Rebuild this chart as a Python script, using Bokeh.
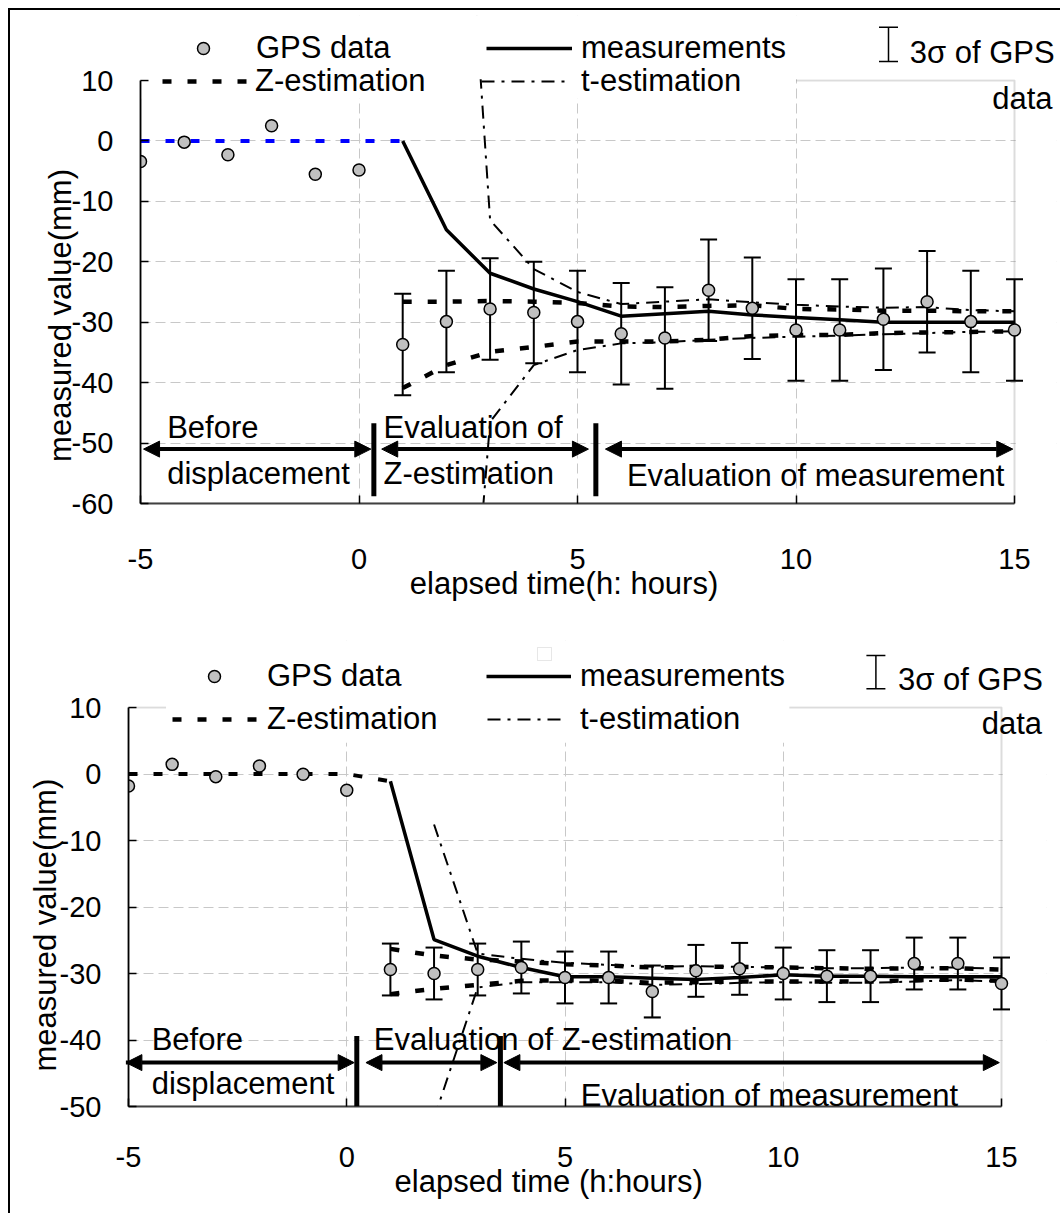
from bokeh.plotting import figure
from bokeh.models import (ColumnDataSource, FixedTicker, BoxAnnotation, Label,
                          Legend, LegendItem, Whisker, TeeHead, Arrow, NormalHead)
from bokeh.layouts import column
from bokeh.embed import file_html
from bokeh.resources import INLINE

# ---------------- data ----------------
hours_pre = [-5, -4, -3, -2, -1, 0]
hours_post = [1, 2, 3, 4, 5, 6, 7, 8, 9, 10, 11, 12, 13, 14, 15]
hours_zpre = [-5, -4, -3, -2, -1, 0, 1]
hours_t = [2, 3, 4, 5, 6, 7, 8, 9, 10, 11, 12, 13, 14, 15]
x_ticks = [-5, 0, 5, 10, 15]
y_ticks_top = [10, 0, -10, -20, -30, -40, -50, -60]
y_ticks_bottom = [10, 0, -10, -20, -30, -40, -50]

# upper chart
gps_pre_top = [-3.4, -0.2, -2.3, 2.5, -5.5, -4.8]
gps_post_top = [-33.7, -29.9, -27.8, -28.4, -29.9, -31.9, -32.6, -24.7, -27.7, -31.3,
                -31.3, -29.5, -26.6, -29.9, -31.3]
gps_3sigma_top = 8.4
meas_top = [0.0, -14.7, -21.9, -24.5, -26.6, -29.0, -28.6, -28.2, -28.8, -29.2,
            -29.6, -30.0, -30.0, -30.0, -30.0]
zpre_top = [0.0, 0.0, 0.0, 0.0, 0.0, 0.0, 0.0]
z_upper_top = [-26.6, -26.6, -26.5, -26.6, -26.8, -27.4, -27.5, -27.3, -27.2, -27.8,
               -27.9, -28.1, -28.1, -28.2, -28.2]
z_lower_top = [-40.9, -37.1, -34.9, -34.1, -33.2, -33.2, -33.2, -32.9, -32.3, -32.1,
               -32.1, -31.8, -31.7, -31.6, -31.5]
t_upper_top = [95.0, -13.1, -21.2, -25.0, -27.0, -26.6, -26.2, -26.7, -27.1, -27.4,
               -27.6, -27.5, -28.0, -28.2]
t_lower_top = [-135.0, -46.5, -37.1, -34.6, -33.5, -33.3, -32.9, -32.6, -32.4, -32.2,
               -32.0, -31.8, -31.6, -31.5]

# lower chart
gps_pre_bottom = [-1.8, 1.45, -0.4, 1.2, -0.05, -2.45]
gps_post_bottom = [-29.4, -30.0, -29.4, -29.1, -30.6, -30.6, -32.7, -29.6, -29.3, -30.0,
                   -30.4, -30.4, -28.5, -28.5, -31.5]
gps_3sigma_bottom = 3.9
meas_bottom = [-1.1, -24.9, -27.4, -29.1, -30.5, -30.5, -30.7, -30.9, -30.6, -30.2,
               -30.4, -30.4, -30.5, -30.5, -30.5]
zpre_bottom = [0.0, 0.0, 0.0, 0.0, 0.0, 0.0, -1.1]
z_upper_bottom = [-26.3, -27.3, -27.9, -28.2, -28.6, -28.8, -29.1, -29.0, -29.0, -29.1,
                  -29.2, -29.3, -29.2, -29.2, -29.4]
z_lower_bottom = [-33.1, -32.3, -31.7, -31.1, -31.0, -31.1, -31.4, -31.3, -31.2, -31.2,
                  -31.2, -31.2, -31.0, -30.9, -31.1]
t_upper_bottom = [-7.6, -27.0, -27.8, -28.4, -28.7, -29.0, -28.9, -29.0, -29.1, -29.2,
                  -29.2, -29.1, -29.1, -29.3]
t_lower_bottom = [-51.8, -32.1, -31.3, -31.3, -31.3, -31.7, -31.6, -31.4, -31.3, -31.4,
                  -31.4, -31.2, -31.0, -31.2]

FONT = "Liberation Sans"
TXT = "31px"
Z_DASH = "9 16"
T_DASH = "13 7 3 7"
GRID = "#c8c8c8"
BORDER = "#8c8c8c"
NB = "\u00a0"


def build(d, lay):
    fl, fr, ft, fb = lay["frame"]          # frame edges on the page (px)
    sx, sy = lay["scale"]                  # px per hour, px per mm
    x0, x1 = x_ticks[0], x_ticks[-1]
    ylo, yhi = d["yt"][-1], d["yt"][0]
    xmax = x0 + (fr - fl) / sx
    ymax = ylo + (fb - ft) / sy
    mbl, mbr = 118, 4
    p = figure(width=mbl + (fr - fl) + mbr, height=lay["mbt"] + (fb - ft) + lay["mbb"],
               x_range=(x0, xmax), y_range=(ylo, ymax), output_backend="svg",
               toolbar_location=None, title=None, min_border_left=mbl, min_border_right=mbr,
               min_border_top=lay["mbt"], min_border_bottom=lay["mbb"])
    p.margin = (0, 0, 0, lay["shift"])
    p.outline_line_color = None
    p.background_fill_color = "white"
    p.border_fill_color = "white"

    # axes
    p.xaxis.ticker = FixedTicker(ticks=x_ticks)
    p.yaxis.ticker = FixedTicker(ticks=d["yt"])
    p.xaxis.major_label_overrides = {t: str(t) for t in x_ticks}
    p.yaxis.major_label_overrides = {t: str(t) for t in d["yt"]}
    p.xaxis.bounds = (x0, x1)
    p.yaxis.bounds = (ylo, yhi)
    p.xaxis.axis_label = d["xlabel"] + NB * lay["xpad"]
    p.yaxis.axis_label = "measured value(mm)" + NB * lay["ypad"]
    for ax in (p.xaxis[0], p.yaxis[0]):
        ax.major_tick_in = 8
        ax.major_tick_out = 0
        ax.minor_tick_line_color = None
        ax.major_tick_line_color = "black"
        ax.major_tick_line_width = 1.5
        ax.major_label_text_font = FONT
        ax.major_label_text_font_size = "29px"
        ax.major_label_text_color = "black"
        ax.axis_label_text_font = FONT
        ax.axis_label_text_font_size = TXT
        ax.axis_label_text_font_style = "normal"
        ax.axis_label_text_color = "black"
    p.yaxis.axis_line_color = "black"
    p.yaxis.axis_line_width = 1.8
    p.xaxis.axis_line_color = "#404040"
    p.xaxis.axis_line_width = 1.8
    p.xaxis.major_label_standoff = lay["xls"]
    p.xaxis.axis_label_standoff = lay["xas"]
    p.yaxis.major_label_standoff = 27
    p.yaxis.axis_label_standoff = lay["yas"]

    # grid
    p.xgrid.ticker = FixedTicker(ticks=x_ticks[1:-1])
    p.ygrid.ticker = FixedTicker(ticks=d["yt"][1:-1])
    for g in (p.xgrid[0], p.ygrid[0]):
        g.grid_line_color = GRID
        g.grid_line_dash = "10 5"
        g.grid_line_width = 1

    # underlay: hide grid right of the plot area, plot-area border, legend background
    p.add_layout(BoxAnnotation(left=x1 + 1.2 / sx, right=xmax + 1, bottom=ylo - 1, top=ymax + 1,
                               fill_color="white", fill_alpha=1, line_color=None,
                               level="underlay"))
    p.add_layout(BoxAnnotation(left=x0, right=x1, bottom=ylo, top=yhi, fill_alpha=0,
                               line_color=BORDER, line_width=2, level="underlay"))
    p.add_layout(BoxAnnotation(left=lay["box_l"], right=lay["box_r"], bottom=lay["box_b"],
                               top=yhi + 1.5 / sy, fill_color="white", fill_alpha=1,
                               line_color=None, level="underlay"))

    # error bars (3 sigma)
    s = d["sig"]
    err_src = ColumnDataSource(dict(x=hours_post,
                                    upper=[v + s for v in d["gps_post"]],
                                    lower=[v - s for v in d["gps_post"]]))
    p.add_layout(Whisker(source=err_src, base="x", upper="upper", lower="lower",
                         dimension="height", line_color="black", line_width=2, level="underlay",
                         upper_head=TeeHead(size=17, line_color="black", line_width=2),
                         lower_head=TeeHead(size=17, line_color="black", line_width=2)))

    # lines and points
    p.line(hours_zpre, d["zpre"], line_color=d["zpre_color"], line_width=4, line_dash=Z_DASH)
    rz = p.line(hours_post, d["z_up"], line_color="black", line_width=4.5, line_dash=Z_DASH)
    p.line(hours_post, d["z_lo"], line_color="black", line_width=4.5, line_dash=Z_DASH)
    rt = p.line(hours_t, d["t_up"], line_color="black", line_width=2, line_dash=T_DASH)
    p.line(hours_t, d["t_lo"], line_color="black", line_width=2, line_dash=T_DASH)
    rm = p.line(hours_post, d["meas"], line_color="black", line_width=3.5)
    rg = p.scatter(hours_pre + hours_post, d["gps_pre"] + d["gps_post"], size=12,
                   fill_color="#c0c0c0", line_color="black", line_width=1.5)

    # hide anything drawn above the plot area (legend zone)
    p.add_layout(BoxAnnotation(left=x0 - 1, right=xmax + 1, bottom=yhi + 1.2 / sy, top=ymax + 1,
                               fill_color="white", fill_alpha=1, line_color=None))

    # region arrows and dividers
    ay = lay["arrow_y"]
    for a, b in lay["arrows"]:
        p.add_layout(Arrow(x_start=a, y_start=ay, x_end=b, y_end=ay, line_width=4,
                           line_color="black",
                           start=NormalHead(size=16, fill_color="black", line_color="black"),
                           end=NormalHead(size=16, fill_color="black", line_color="black")))
    by0, by1 = lay["bar_y"]
    for bx in lay["bars"]:
        p.add_layout(Arrow(x_start=bx, y_start=by0, x_end=bx, y_end=by1, line_width=5,
                           line_color="black", end=None))
    for txt, tx, ty in lay["texts"]:
        p.add_layout(Label(x=tx, y=ty, text=txt, text_font=FONT, text_font_size=TXT,
                           text_baseline="middle", text_align="left", text_color="black"))

    # legend (page-coordinate layout converted to frame-relative screen units)
    def leg(r, label, lx, yc, gw, so):
        gh = 30
        p.add_layout(Legend(items=[LegendItem(label=label, renderers=[r])],
                            location=(int(round(lx - fl)), int(round(fb - (yc + gh / 2)))),
                            orientation="vertical", padding=0, margin=0, spacing=0,
                            glyph_width=int(gw), glyph_height=gh, label_height=gh,
                            label_standoff=int(so), label_text_font=FONT,
                            label_text_font_size=TXT, label_text_color="black",
                            border_line_color=None, background_fill_alpha=0), "center")

    for key, r in (("gps", rg), ("meas", rm), ("z", rz), ("t", rt)):
        label, lx, yc, gw, so = lay["legend"][key]
        leg(r, label, lx, yc, gw, so)

    ibx, iby0, iby1 = lay["ibeam"]
    ib_src = ColumnDataSource(dict(b=[ibx - fl], lo=[fb - iby1], hi=[fb - iby0]))
    p.add_layout(Whisker(source=ib_src, base="b", lower="lo", upper="hi",
                         base_units="screen", lower_units="screen", upper_units="screen",
                         dimension="height", line_color="black", line_width=1.5,
                         level="annotation",
                         upper_head=TeeHead(size=19, line_color="black", line_width=1.5),
                         lower_head=TeeHead(size=19, line_color="black", line_width=1.5)))
    tx, ty = lay["sigma_txt"]
    p.add_layout(Label(x=tx - fl, y=fb - ty, x_units="screen", y_units="screen",
                       text="3σ of GPS", text_font=FONT, text_font_size=TXT,
                       text_baseline="middle", text_align="left", text_color="black"))
    tx, ty = lay["data_txt"]
    p.add_layout(Label(x=tx - fl, y=fb - ty, x_units="screen", y_units="screen",
                       text="data", text_font=FONT, text_font_size=TXT,
                       text_baseline="middle", text_align="right", text_color="black"))
    if "mark" in lay:
        l, r, t, b = lay["mark"]
        p.add_layout(BoxAnnotation(left=l - fl, right=r - fl, top=fb - t, bottom=fb - b,
                                   left_units="screen", right_units="screen",
                                   top_units="screen", bottom_units="screen",
                                   fill_alpha=0, line_color="#b0b0b0", line_width=1))
    return p


data_top = dict(yt=y_ticks_top, xlabel="elapsed time(h: hours)", sig=gps_3sigma_top,
                gps_pre=gps_pre_top, gps_post=gps_post_top, meas=meas_top, zpre=zpre_top,
                zpre_color="#0000ff", z_up=z_upper_top, z_lo=z_lower_top,
                t_up=t_upper_top, t_lo=t_lower_top)
data_bottom = dict(yt=y_ticks_bottom, xlabel="elapsed time (h:hours)", sig=gps_3sigma_bottom,
                   gps_pre=gps_pre_bottom, gps_post=gps_post_bottom, meas=meas_bottom,
                   zpre=zpre_bottom, zpre_color="black", z_up=z_upper_bottom,
                   z_lo=z_lower_bottom, t_up=t_upper_bottom, t_lo=t_lower_bottom)

lay_top = dict(frame=(140, 1056, 15, 503), scale=(874 / 20, 423 / 70), shift=12,
               mbt=5, mbb=127, xls=45, xas=-6, yas=-9, xpad=8, ypad=13,
               box_l=-5.0, box_r=10.0, box_b=7.0,
               arrow_y=-51, arrows=[(-4.93, 0.27), (0.52, 5.25), (5.64, 14.96)],
               bars=[0.34, 5.42], bar_y=(-46.7, -58.8),
               texts=[("Before", -4.39, -47.5), ("displacement", -4.39, -55.0),
                      ("Evaluation of", 0.56, -47.5), ("Z-estimation", 0.56, -55.1),
                      ("Evaluation of measurement", 6.13, -55.4)],
               legend=dict(gps=("GPS data", 183, 51, 40, 33),
                           meas=("measurements", 486, 51, 86, 9),
                           z=("Z-estimation", 162, 84.5, 85, 8),
                           t=("t-estimation", 481, 84.5, 90, 10)),
               ibeam=(888, 26.7, 61), sigma_txt=(909.3, 51.7), data_txt=(1052, 98.3))

lay_bottom = dict(frame=(128, 1046, 640, 1106), scale=(873 / 20, 399 / 60), shift=0,
                  mbt=10, mbb=107, xls=40, xas=-6, yas=-6, xpad=9, ypad=12,
                  box_l=-4.14, box_r=10.14, box_b=4.7,
                  arrow_y=-43.4, arrows=[(-5.06, 0.17), (0.44, 3.44), (3.6, 14.95)],
                  bars=[0.23, 3.52], bar_y=(-39.4, -50.0),
                  texts=[("Before", -4.47, -39.9), ("displacement", -4.47, -46.5),
                         ("Evaluation of Z-estimation", 0.62, -39.9),
                         ("Evaluation of measurement", 5.36, -48.3)],
                  legend=dict(gps=("GPS data", 194, 679, 40, 33),
                              meas=("measurements", 486, 679, 85, 9),
                              z=("Z-estimation", 172, 722, 85, 10),
                              t=("t-estimation", 487, 722, 75, 18)),
                  ibeam=(875.4, 655, 688.3), sigma_txt=(897.4, 679), data_txt=(1041.5, 723),
                  mark=(537, 551, 647, 660))

p1 = build(data_top, lay_top)
p2 = build(data_bottom, lay_bottom)
layout = column(p1, p2, spacing=0, margin=(8, 0, 0, 8),
                styles={"border-top": "2px solid black", "border-left": "2px solid black"})

open("out.html", "w").write(file_html(layout, INLINE))
